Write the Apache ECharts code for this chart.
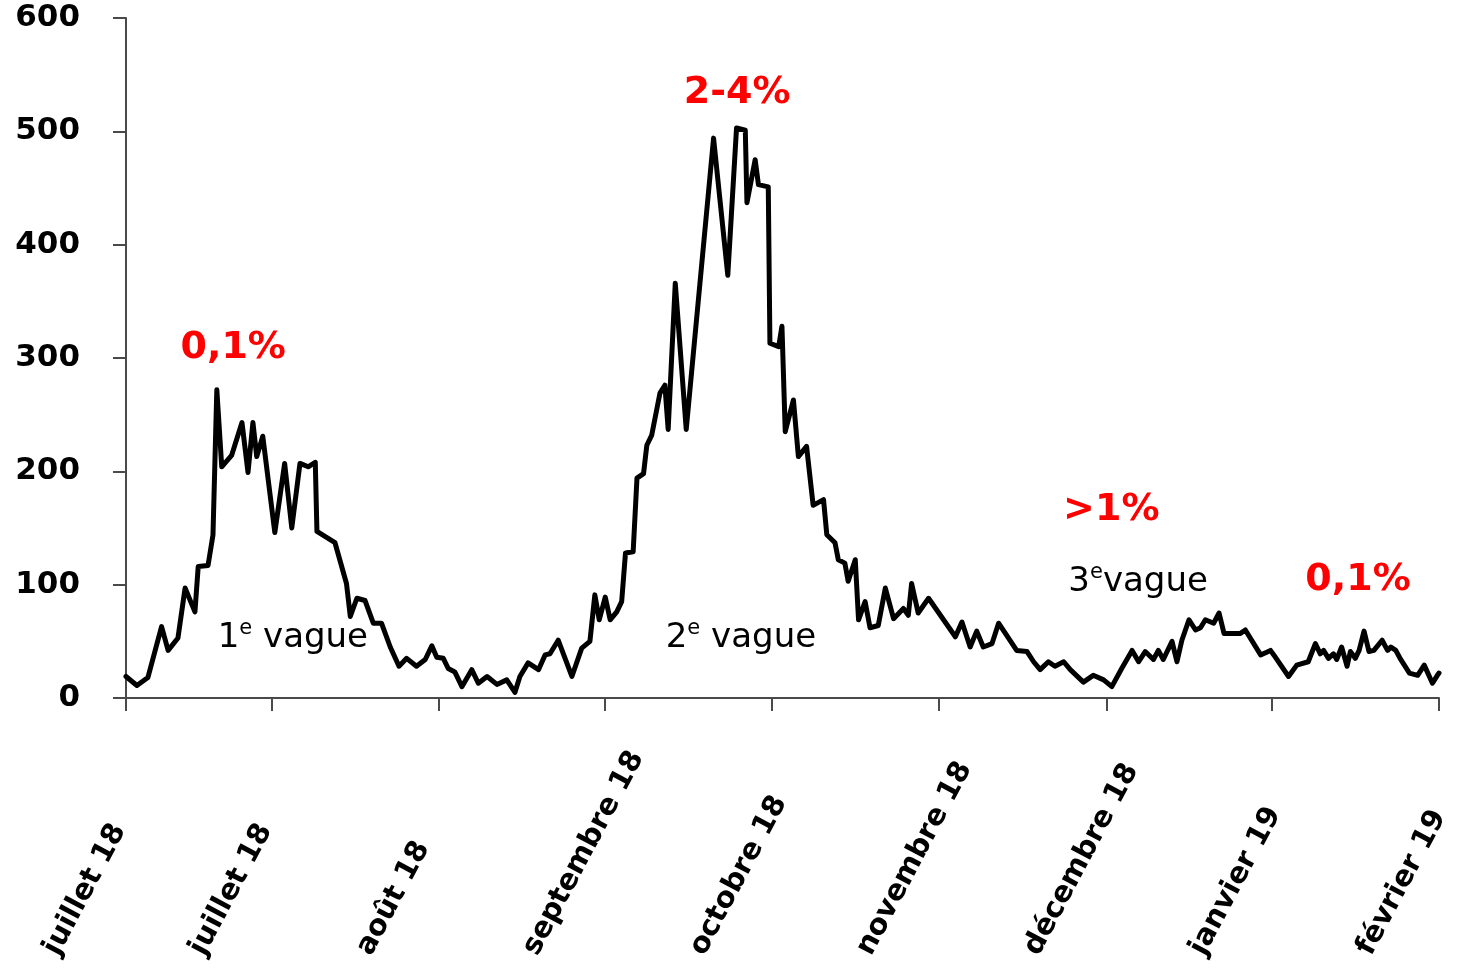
<!DOCTYPE html>
<html>
<head>
<meta charset="utf-8">
<script src="https://cdn.jsdelivr.net/npm/echarts@6/dist/echarts.min.js"></script>
<style>
  html, body { margin: 0; padding: 0; background: #fff; }
  #chart { width: 1466px; height: 973px; }
</style>
</head>
<body>
<div id="chart"></div>
<script>
// Daily deaths, July 1918 – February 1919 (x = days since start of the series)
const days = [
  0, 2.0, 4.0, 6.5, 7.7, 9.5, 10.8, 12.6, 13.2, 15.0, 15.9, 16.6, 17.5, 19.3, 21.2, 22.3, 23.2, 23.9, 25.0,
  27.2, 29.0, 30.3, 31.8, 33.3, 34.6, 34.9, 38.2, 40.3, 41.0, 42.2, 43.7, 45.2, 46.7, 48.3, 49.9,
  51.3, 53.1, 54.7, 55.9, 56.8, 58.0, 58.9, 60.1, 61.4, 63.2, 64.4, 66.0, 67.8, 69.6, 71.1, 72.0,
  73.5, 75.4, 76.6, 77.5, 79.0, 81.5, 83.3, 84.8, 85.7, 86.5, 87.6, 88.5, 89.7, 90.6, 91.3, 92.7,
  93.4, 94.6, 95.2, 96.1, 97.6, 98.5, 99.1, 100.4, 102.4, 107.4, 110.0, 111.6, 113.2, 113.5, 115.0,
  115.6, 117.4, 117.7, 119.3, 119.9, 120.5, 122.0, 122.9, 124.4, 125.6, 127.5, 128.1, 129.6, 130.2,
  131.4, 132.0, 133.3, 133.9, 135.1, 136.0, 137.5, 138.8, 140.3, 142.1, 143.0, 143.6, 144.8, 146.7,
  151.6, 152.8, 154.3, 155.5, 156.7, 158.3, 159.5, 162.8, 164.7, 165.9, 167.1, 168.6, 169.8, 171.4,
  172.6, 175.0, 176.8, 178.7, 180.2, 182.0, 183.9, 185.1, 186.3, 187.8, 188.7, 189.6, 191.2, 192.1,
  193.0, 194.3, 195.5, 196.4, 197.3, 198.8, 199.8, 200.7, 203.7, 204.6, 207.4, 209.2, 209.8, 212.5,
  214.0, 216.1, 217.4, 218.3, 218.9, 219.8, 220.7, 221.3, 222.2, 223.2, 223.8, 224.7, 225.4, 226.3,
  227.2, 228.1, 229.6, 230.6, 231.2, 232.1, 233.0, 234.6, 236.1, 237.3, 238.8, 239.7, 240
];
const deaths = [
  19, 11, 18, 63, 42, 53, 97, 76, 116, 117, 144, 272, 204, 214, 243, 199, 243, 213, 231,
  146, 207, 150, 207, 204, 208, 147, 137, 101, 72, 88, 86, 66, 66, 45, 28,
  35, 28, 34, 46, 36, 35, 26, 23, 10, 25, 13, 19, 12, 16, 5, 19,
  31, 25, 38, 39, 51, 19, 44, 50, 91, 69, 89, 69, 76, 85, 128, 129,
  194, 198, 223, 232, 269, 276, 237, 366, 237, 494, 373, 503, 501, 437, 475,
  453, 451, 313, 310, 328, 235, 263, 213, 222, 170, 175, 144, 137, 122,
  119, 103, 122, 69, 85, 62, 64, 97, 70, 79, 73, 101, 75, 88,
  54, 67, 45, 59, 45, 48, 66, 42, 41, 32, 25, 32, 28, 32,
  25, 14, 20, 16, 10, 26, 42, 32, 41, 34, 42, 34, 50, 32,
  51, 69, 60, 62, 69, 66, 75, 57, 57, 60, 38, 42, 38, 19,
  29, 32, 48, 39, 42, 35, 39, 34, 45, 28, 41, 35, 42, 59,
  41, 42, 51, 42, 45, 42, 34, 22, 20, 29, 13, 20, 22
];

// Month ticks on the date axis
const tickDays = [0, 26.7, 57.2, 87.6, 118.1, 148.6, 179.2, 209.5, 240];
const tickLabels = ['juillet 18', 'juillet 18', 'août 18', 'septembre 18', 'octobre 18',
  'novembre 18', 'décembre 18', 'janvier 19', 'février 19'];

// Lethality rates over each wave
const rateDays = [19.6, 111.7, 180.1, 225.2];
const rateValues = [309, 534, 166, 104];
const rateTexts = ['0,1%', '2-4%', '>1%', '0,1%'];

// Wave names
const waveDays = [30.5, 112.4, 185.0];
const waveValues = [53, 53, 102];
const waveTexts = ['{n|1}{s|e}{n| vague}', '{n|2}{s|e}{n| vague}', '{n|3}{s|e}{n|vague}'];

const axisColor = '#4a4a4a';
const tickFont = 'DejaVu Sans';

const points = days.map((d, i) => [d, deaths[i]]);

const markData = [];
rateDays.forEach((d, i) => markData.push({
  coord: [d, rateValues[i]],
  label: { formatter: rateTexts[i], color: '#ff0000', fontSize: 38, fontWeight: 'bold', fontFamily: tickFont }
}));
waveDays.forEach((d, i) => markData.push({
  coord: [d, waveValues[i]],
  label: {
    formatter: waveTexts[i],
    rich: {
      n: { fontSize: 34, fontFamily: tickFont, color: '#000', lineHeight: 40 },
      s: { fontSize: 21, fontFamily: tickFont, color: '#000', lineHeight: 22, verticalAlign: 'top' }
    }
  }
}));

const chart = echarts.init(document.getElementById('chart'), null, { renderer: 'canvas' });
chart.setOption({
  backgroundColor: '#ffffff',
  animation: false,
  grid: { left: 126, right: 27, top: 18, bottom: 275, containLabel: false, outerBoundsMode: 'none' },
  xAxis: {
    type: 'value',
    min: 0,
    max: 240,
    splitLine: { show: false },
    axisLine: { show: true, lineStyle: { color: axisColor, width: 2 } },
    axisTick: { show: true, length: 13, customValues: tickDays, lineStyle: { color: axisColor, width: 2 } },
    axisLabel: {
      customValues: tickDays,
      rotate: 62,
      align: 'left',
      verticalAlign: 'bottom',
      padding: [0, 0, 70, 0],
      margin: 295,
      color: '#000',
      fontSize: 29,
      fontWeight: 'bold',
      fontFamily: tickFont,
      formatter: (v) => {
        const i = tickDays.indexOf(v);
        return i >= 0 ? tickLabels[i] : '';
      }
    }
  },
  yAxis: {
    type: 'value',
    min: 0,
    max: 600,
    interval: 100,
    splitLine: { show: false },
    axisLine: { show: true, lineStyle: { color: axisColor, width: 2 } },
    axisTick: { show: true, length: 13, lineStyle: { color: axisColor, width: 2 } },
    axisLabel: { margin: 46, color: '#000', fontSize: 31, fontWeight: 'bold', fontFamily: tickFont, padding: [6, 0, 0, 0] }
  },
  series: [{
    type: 'line',
    data: points,
    showSymbol: false,
    symbol: 'none',
    lineStyle: { color: '#000', width: 5, join: 'round', cap: 'round' },
    markPoint: {
      symbol: 'circle',
      symbolSize: 0,
      itemStyle: { color: 'rgba(0,0,0,0)' },
      label: { show: true, position: 'inside' },
      data: markData
    }
  }]
});
</script>
</body>
</html>
